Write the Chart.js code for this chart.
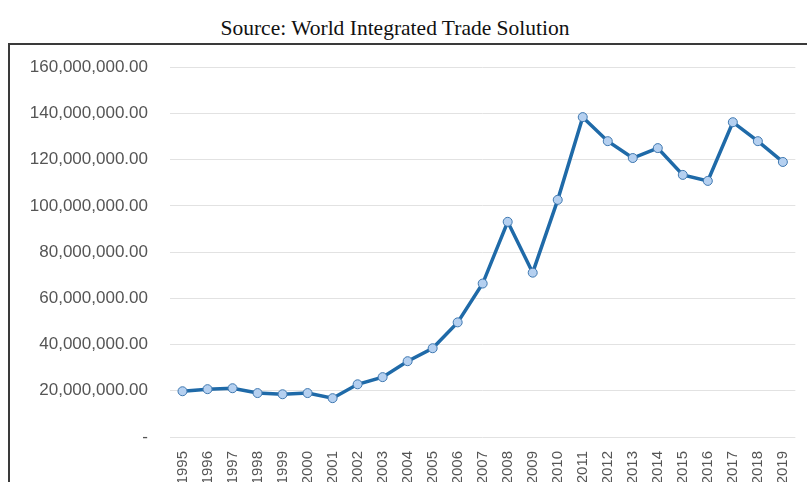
<!DOCTYPE html>
<html>
<head>
<meta charset="utf-8">
<script src="https://cdn.jsdelivr.net/npm/chart.js@4"></script>
<style>
    body { margin: 0; background: #fff; width: 807px; height: 482px; overflow: hidden; position: relative; }
    #title {
        position: absolute; left: 0; top: 16px; width: 790px; text-align: center;
        font-family: "Liberation Serif", "Times New Roman", serif; font-size: 21.5px; color: #111;
    }
    #frame {
        position: absolute; left: 8px; top: 43px; width: 798px; height: 450px;
        border-top: 2px solid #3a3a3a; border-left: 2px solid #3a3a3a;
    }
    #wrap { position: absolute; left: 0; top: 35px; width: 807px; height: 447px; }
</style>
</head>
<body>
<div id="title">Source: World Integrated Trade Solution</div>
<div id="frame"></div>
<div id="wrap"><canvas id="tradeChart"></canvas></div>
<script>
const years = ['1995', '1996', '1997', '1998', '1999', '2000', '2001', '2002', '2003', '2004',
    '2005', '2006', '2007', '2008', '2009', '2010', '2011', '2012', '2013', '2014',
    '2015', '2016', '2017', '2018', '2019'];
const tradeValues = [19800000, 20700000, 21100000, 19000000, 18500000, 19000000, 16800000, 22800000,
    25900000, 32800000, 38400000, 49600000, 66400000, 93100000, 71100000, 102600000, 138400000,
    128000000, 120700000, 125000000, 113400000, 110800000, 136200000, 128000000, 119000000];
const yTicks = [0, 20000000, 40000000, 60000000, 80000000, 100000000, 120000000, 140000000, 160000000];

document.addEventListener('DOMContentLoaded', function() {
    const ctx = document.getElementById('tradeChart').getContext('2d');
    new Chart(ctx, {
        type: 'line',
        data: {
            labels: years,
            datasets: [{
                data: tradeValues,
                borderColor: '#1f6aa8',
                borderWidth: 3.5,
                pointRadius: 4.5,
                pointBackgroundColor: '#b5d0f0',
                pointBorderColor: '#3f78b0',
                pointBorderWidth: 1,
                tension: 0
            }]
        },
        options: {
            responsive: true,
            maintainAspectRatio: false,
            animation: false,
            layout: { padding: { top: 13, right: 7, left: 0, bottom: 0 } },
            plugins: { legend: { display: false }, tooltip: { enabled: false } },
            scales: {
                x: {
                    offset: true,
                    grid: { display: false },
                    border: { display: false },
                    ticks: {
                        color: '#555',
                        font: { family: 'Liberation Sans, Arial, sans-serif', size: 15 },
                        minRotation: 90,
                        maxRotation: 90,
                        autoSkip: false,
                        padding: 6
                    },
                    afterFit: function(scale) { scale.height = 45; }
                },
                y: {
                    min: 0,
                    max: 160000000,
                    afterBuildTicks: function(scale) {
                        scale.ticks = yTicks.map(v => ({ value: v }));
                    },
                    grid: { color: '#e2e2e2', drawTicks: false },
                    border: { display: false },
                    ticks: {
                        color: '#555',
                        font: { family: 'Liberation Sans, Arial, sans-serif', size: 17 },
                        padding: 22,
                        callback: function(value) {
                            if (value === 0) return '-';
                            return value.toLocaleString('en-US', { minimumFractionDigits: 2, maximumFractionDigits: 2 });
                        }
                    },
                    afterFit: function(scale) { scale.width = 170; }
                }
            }
        }
    });
});
</script>
</body>
</html>
